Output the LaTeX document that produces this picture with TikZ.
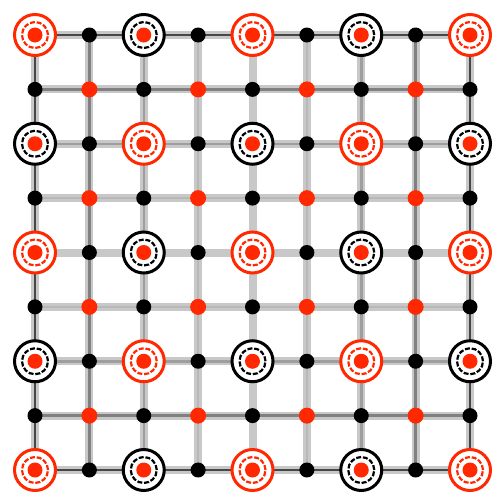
\documentclass[tikz,border=0pt]{standalone}
\usetikzlibrary{backgrounds}
\definecolor{rd}{RGB}{255,40,0}
\definecolor{bandc}{RGB}{200,200,200}
\begin{document}
\begin{tikzpicture}[x=1pt,y=-1pt,
  blackdot/.style={circle,fill=black,inner sep=0pt,minimum size=15pt},
  reddot/.style={circle,fill=rd,inner sep=0pt,minimum size=16pt},
  ring/.style={circle,draw=#1,fill=white,line width=3pt,minimum size=41pt,inner sep=0pt,
    path picture={
      \draw[#1,line width=2.2pt,dash pattern=on 5pt off 1.8pt]
        (path picture bounding box.center) circle (13pt);
      \fill[rd] (path picture bounding box.center) circle (7.5pt);}},
  bandline/.style={draw=bandc,line width=8pt},
  coreline/.style={draw=black!#1,line width=2.5pt}
]
\useasboundingbox (0,0) rectangle (496,496);
\foreach \i in {0,...,8}{
  \foreach \j in {0,...,8}{
    \pgfmathsetmacro\xx{35+54.375*\i}
    \pgfmathsetmacro\yy{35+54.375*\j}
    \pgfmathtruncatemacro\mi{mod(\i,2)}
    \pgfmathtruncatemacro\mj{mod(\j,2)}
    \pgfmathtruncatemacro\cc{mod((\i+\j)/2,2)}
    \ifnum\numexpr\mi+\mj\relax=0
      \ifnum\cc=0 \def\rc{rd}\else\def\rc{black}\fi
      \node[ring=\rc] (p-\i-\j) at (\xx,\yy) {};
    \else
      \ifnum\numexpr\mi+\mj\relax=2
        \node[reddot] (p-\i-\j) at (\xx,\yy) {};
      \else
        \node[blackdot] (p-\i-\j) at (\xx,\yy) {};
      \fi
    \fi
  }
}
\begin{pgfonlayer}{background}
  \foreach \k in {0,...,8}{
    \draw[bandline] (p-0-\k.center) -- (p-8-\k.center);
    \draw[bandline] (p-\k-0.center) -- (p-\k-8.center);
  }
  \foreach \k/\g in {0/72,1/50,2/38,3/28,5/28,6/38,7/50,8/72}{
    \draw[coreline=\g] (p-0-\k.center) -- (p-8-\k.center);
    \draw[coreline=\g] (p-\k-0.center) -- (p-\k-8.center);
  }
\end{pgfonlayer}
\end{tikzpicture}
\end{document}
